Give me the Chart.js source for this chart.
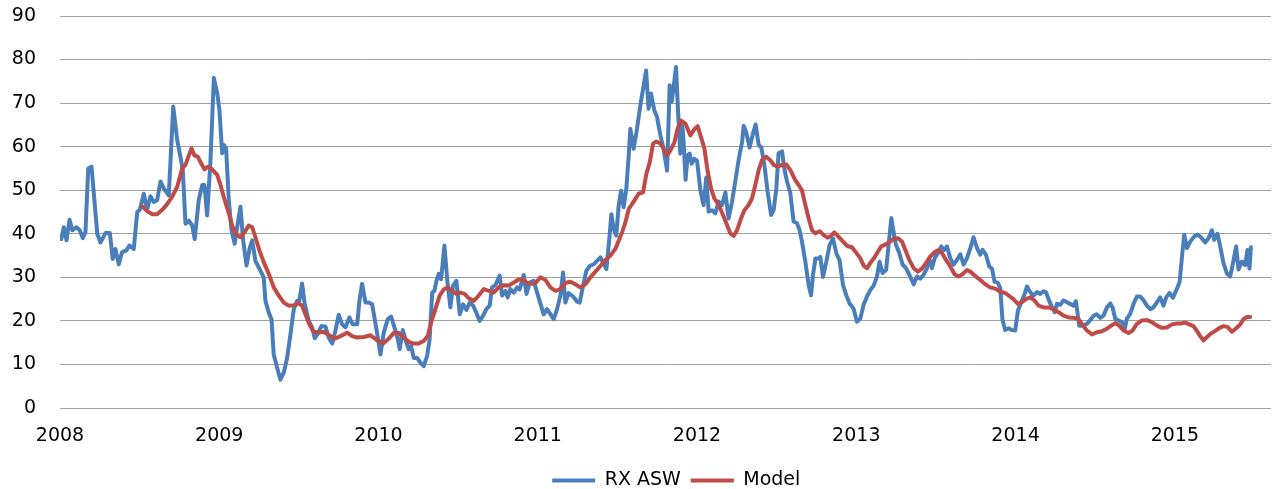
<!DOCTYPE html>
<html>
<head>
<meta charset="utf-8">
<script src="https://cdn.jsdelivr.net/npm/chart.js@4.4.1/dist/chart.umd.min.js"></script>
<style>
  html, body { margin: 0; padding: 0; background: #fff; }
  #wrap { width: 1272px; height: 489px; }
</style>
</head>
<body>
<div id="wrap"><canvas id="aswChart"></canvas></div>
<script>
// Year ticks on the x axis, value ticks on the y axis
const yearTicks = [2008, 2009, 2010, 2011, 2012, 2013, 2014, 2015]
const valueTicks = [0, 10, 20, 30, 40, 50, 60, 70, 80, 90]

// RX ASW (decimal year, value)
const aswYears = [
  2008.008, 2008.024, 2008.041, 2008.060, 2008.077, 2008.104, 2008.124, 2008.143, 2008.160, 2008.177,
  2008.198, 2008.234, 2008.254, 2008.286, 2008.313, 2008.331, 2008.348, 2008.369, 2008.390, 2008.417,
  2008.436, 2008.463, 2008.485, 2008.501, 2008.526, 2008.547, 2008.568, 2008.589, 2008.610, 2008.631,
  2008.652, 2008.683, 2008.711, 2008.736, 2008.756, 2008.771, 2008.788, 2008.809, 2008.830, 2008.846,
  2008.871, 2008.893, 2008.907, 2008.924, 2008.945, 2008.966, 2008.987, 2009.001, 2009.018, 2009.028,
  2009.043, 2009.060, 2009.077, 2009.097, 2009.116, 2009.133, 2009.150, 2009.171, 2009.192, 2009.207,
  2009.227, 2009.259, 2009.279, 2009.290, 2009.311, 2009.328, 2009.342, 2009.364, 2009.384, 2009.405,
  2009.426, 2009.447, 2009.468, 2009.489, 2009.503, 2009.520, 2009.537, 2009.562, 2009.583, 2009.600,
  2009.621, 2009.642, 2009.667, 2009.687, 2009.709, 2009.729, 2009.750, 2009.772, 2009.792, 2009.817,
  2009.838, 2009.866, 2009.880, 2009.897, 2009.918, 2009.939, 2009.960, 2009.987, 2010.012, 2010.033,
  2010.058, 2010.079, 2010.100, 2010.121, 2010.133, 2010.152, 2010.175, 2010.190, 2010.205, 2010.221,
  2010.242, 2010.263, 2010.284, 2010.305, 2010.321, 2010.337, 2010.351, 2010.364, 2010.378, 2010.393,
  2010.414, 2010.431, 2010.451, 2010.468, 2010.489, 2010.510, 2010.531, 2010.552, 2010.573, 2010.594,
  2010.615, 2010.635, 2010.657, 2010.677, 2010.698, 2010.713, 2010.734, 2010.761, 2010.776, 2010.797,
  2010.811, 2010.828, 2010.849, 2010.870, 2010.886, 2010.912, 2010.929, 2010.949, 2010.974, 2010.996,
  2011.037, 2011.058, 2011.075, 2011.100, 2011.121, 2011.142, 2011.159, 2011.173, 2011.194, 2011.222,
  2011.247, 2011.263, 2011.284, 2011.305, 2011.326, 2011.351, 2011.372, 2011.393, 2011.410, 2011.431,
  2011.451, 2011.462, 2011.477, 2011.493, 2011.508, 2011.523, 2011.539, 2011.556, 2011.571, 2011.581,
  2011.602, 2011.623, 2011.644, 2011.665, 2011.680, 2011.696, 2011.711, 2011.732, 2011.749, 2011.770,
  2011.790, 2011.812, 2011.828, 2011.841, 2011.853, 2011.868, 2011.881, 2011.895, 2011.906, 2011.916,
  2011.928, 2011.941, 2011.954, 2011.966, 2011.983, 2012.000, 2012.021, 2012.041, 2012.058, 2012.073,
  2012.094, 2012.115, 2012.136, 2012.157, 2012.178, 2012.198, 2012.220, 2012.240, 2012.261, 2012.283,
  2012.293, 2012.310, 2012.330, 2012.352, 2012.368, 2012.387, 2012.404, 2012.423, 2012.443, 2012.465,
  2012.481, 2012.498, 2012.512, 2012.534, 2012.548, 2012.565, 2012.586, 2012.606, 2012.628, 2012.644,
  2012.659, 2012.680, 2012.701, 2012.716, 2012.728, 2012.743, 2012.763, 2012.774, 2012.791, 2012.812,
  2012.832, 2012.854, 2012.875, 2012.895, 2012.917, 2012.937, 2012.958, 2012.983, 2013.004, 2013.025,
  2013.046, 2013.067, 2013.088, 2013.109, 2013.130, 2013.146, 2013.165, 2013.187, 2013.203, 2013.220,
  2013.234, 2013.249, 2013.270, 2013.291, 2013.312, 2013.333, 2013.360, 2013.381, 2013.402, 2013.423,
  2013.444, 2013.458, 2013.475, 2013.492, 2013.513, 2013.534, 2013.551, 2013.569, 2013.590, 2013.611,
  2013.632, 2013.653, 2013.674, 2013.695, 2013.716, 2013.736, 2013.758, 2013.778, 2013.793, 2013.814,
  2013.835, 2013.852, 2013.868, 2013.890, 2013.904, 2013.918, 2013.935, 2013.956, 2013.977, 2013.998,
  2014.015, 2014.036, 2014.057, 2014.072, 2014.092, 2014.113, 2014.134, 2014.155, 2014.176, 2014.191,
  2014.207, 2014.229, 2014.245, 2014.260, 2014.281, 2014.301, 2014.323, 2014.343, 2014.364, 2014.379,
  2014.400, 2014.421, 2014.448, 2014.469, 2014.490, 2014.511, 2014.532, 2014.552, 2014.574, 2014.595,
  2014.609, 2014.626, 2014.647, 2014.668, 2014.684, 2014.699, 2014.720, 2014.741, 2014.762, 2014.783,
  2014.804, 2014.825, 2014.846, 2014.866, 2014.888, 2014.908, 2014.929, 2014.946, 2014.967, 2014.988,
  2015.009, 2015.030, 2015.045, 2015.059, 2015.076, 2015.097, 2015.122, 2015.143, 2015.164, 2015.191,
  2015.212, 2015.233, 2015.247, 2015.268, 2015.285, 2015.306, 2015.327, 2015.348, 2015.365, 2015.385,
  2015.400, 2015.421, 2015.442, 2015.456, 2015.469, 2015.478
]
const aswValues = [
  38.8, 41.5, 38.5, 43.2, 40.8, 41.5, 40.8, 39.0, 40.4, 55.0,
  55.4, 40.0, 38.0, 40.2, 40.2, 34.2, 36.5, 33.0, 35.8, 36.2,
  37.3, 36.5, 45.0, 45.5, 49.2, 45.5, 48.6, 47.3, 47.7, 52.0,
  50.4, 48.8, 69.2, 61.5, 57.7, 54.6, 42.3, 43.0, 41.9, 38.8,
  47.7, 51.2, 51.2, 44.2, 56.9, 75.8, 72.3, 68.5, 58.5, 60.4,
  59.6, 47.7, 40.8, 37.7, 42.3, 46.2, 38.5, 32.7, 36.9, 38.5,
  33.8, 31.5, 30.0, 24.6, 21.9, 20.4, 12.3, 9.2, 6.5, 8.1,
  11.5, 16.9, 22.7, 24.6, 24.6, 28.6, 23.8, 20.0, 18.5, 16.0,
  17.3, 18.8, 18.7, 16.2, 14.8, 17.7, 21.4, 19.2, 18.5, 20.8,
  19.2, 19.2, 24.6, 28.5, 24.2, 24.2, 23.8, 18.1, 12.3, 17.3,
  20.4, 21.0, 18.5, 15.8, 13.5, 17.9, 15.0, 13.5, 14.2, 11.5,
  11.5, 10.4, 9.6, 11.9, 15.8, 26.5, 26.9, 29.2, 30.8, 29.6,
  37.3, 29.6, 23.1, 28.1, 29.2, 21.5, 23.8, 22.5, 24.2, 23.5,
  21.8, 20.0, 21.2, 22.7, 23.5, 27.7, 28.2, 30.4, 25.8, 26.9,
  25.4, 27.3, 26.5, 27.7, 27.2, 30.5, 26.2, 28.8, 29.2, 26.5,
  21.5, 22.7, 21.8, 20.4, 22.7, 25.8, 31.1, 24.2, 26.4, 25.6,
  24.4, 24.2, 28.0, 31.5, 32.6, 33.0, 33.8, 34.6, 33.4, 31.9,
  39.6, 44.5, 41.1, 39.6, 46.5, 49.9, 46.1, 50.3, 58.0, 64.1,
  59.5, 64.1, 69.5, 74.1, 77.5, 68.7, 72.2, 68.3, 66.8, 62.6,
  59.5, 54.5, 74.1, 70.3, 73.7, 78.3, 68.0, 58.4, 65.6, 61.0,
  52.4, 58.0, 58.4, 56.1, 57.2, 56.8, 50.0, 46.6, 52.9, 45.1,
  45.4, 44.7, 47.4, 46.6, 49.5, 43.5, 47.4, 52.0, 56.9, 61.1,
  64.8, 63.1, 59.8, 63.1, 65.1, 60.4, 59.8, 55.8, 49.7, 44.3,
  45.4, 50.4, 58.5, 58.9, 55.0, 52.0, 49.3, 42.8, 42.4, 40.8,
  38.2, 33.6, 28.2, 25.9, 30.5, 34.3, 34.3, 34.7, 30.1, 33.6,
  37.4, 38.9, 35.5, 33.9, 28.2, 25.9, 24.0, 22.8, 19.8, 20.5,
  23.7, 25.6, 27.1, 28.1, 30.2, 33.6, 31.0, 31.7, 37.5, 43.6,
  40.5, 37.5, 35.6, 32.9, 32.1, 30.6, 28.4, 30.2, 29.7, 30.6,
  32.1, 34.4, 32.1, 34.4, 35.6, 37.1, 36.3, 37.1, 34.4, 32.9,
  34.0, 35.3, 32.9, 34.4, 36.7, 39.2, 36.7, 35.2, 36.3, 35.2,
  32.5, 32.0, 29.0, 28.7, 27.5, 20.2, 17.9, 18.3, 17.9, 17.8,
  22.4, 24.3, 26.2, 27.9, 26.6, 25.8, 26.6, 26.2, 26.8, 26.6,
  25.0, 23.1, 22.0, 23.9, 23.7, 24.7, 24.3, 23.9, 23.5, 24.5,
  18.9, 18.9, 19.3, 20.2, 21.2, 21.5, 20.7, 21.2, 23.1, 24.0,
  23.1, 20.5, 20.1, 19.7, 17.9, 20.5, 21.6, 23.9, 25.6, 25.6,
  24.7, 23.5, 22.7, 23.1, 24.3, 25.4, 23.5, 25.4, 26.4, 25.3,
  27.0, 28.9, 34.7, 39.8, 36.7, 38.2, 39.4, 39.8, 39.2, 38.0,
  39.0, 40.8, 38.6, 40.0, 37.1, 33.2, 30.9, 30.2, 33.2, 37.1,
  31.8, 33.6, 32.8, 36.3, 32.0, 36.9
]

// Model (decimal year, value)
const modelYears = [
  2008.516, 2008.547, 2008.579, 2008.610, 2008.642, 2008.673, 2008.704, 2008.736, 2008.767, 2008.788,
  2008.809, 2008.826, 2008.844, 2008.865, 2008.886, 2008.907, 2008.928, 2008.949, 2008.987, 2009.008,
  2009.028, 2009.050, 2009.064, 2009.081, 2009.102, 2009.133, 2009.160, 2009.185, 2009.207, 2009.227,
  2009.252, 2009.279, 2009.311, 2009.342, 2009.374, 2009.405, 2009.436, 2009.468, 2009.499, 2009.520,
  2009.541, 2009.566, 2009.593, 2009.625, 2009.656, 2009.687, 2009.725, 2009.761, 2009.803, 2009.834,
  2009.866, 2009.907, 2009.949, 2009.991, 2010.029, 2010.064, 2010.095, 2010.127, 2010.158, 2010.190,
  2010.221, 2010.252, 2010.284, 2010.309, 2010.330, 2010.357, 2010.384, 2010.409, 2010.434, 2010.462,
  2010.489, 2010.514, 2010.541, 2010.566, 2010.598, 2010.629, 2010.660, 2010.692, 2010.723, 2010.755,
  2010.786, 2010.817, 2010.849, 2010.880, 2010.908, 2010.933, 2010.964, 2010.989, 2011.016, 2011.048,
  2011.079, 2011.111, 2011.142, 2011.173, 2011.205, 2011.236, 2011.267, 2011.299, 2011.330, 2011.362,
  2011.393, 2011.424, 2011.456, 2011.487, 2011.508, 2011.529, 2011.550, 2011.571, 2011.592, 2011.613,
  2011.633, 2011.661, 2011.682, 2011.703, 2011.724, 2011.745, 2011.770, 2011.790, 2011.812, 2011.832,
  2011.858, 2011.878, 2011.900, 2011.927, 2011.958, 2011.983, 2012.004, 2012.046, 2012.067, 2012.088,
  2012.109, 2012.136, 2012.163, 2012.188, 2012.209, 2012.230, 2012.251, 2012.272, 2012.297, 2012.324,
  2012.345, 2012.366, 2012.387, 2012.408, 2012.435, 2012.460, 2012.481, 2012.506, 2012.534, 2012.561,
  2012.586, 2012.617, 2012.638, 2012.659, 2012.680, 2012.701, 2012.722, 2012.743, 2012.770, 2012.795,
  2012.820, 2012.841, 2012.862, 2012.889, 2012.917, 2012.942, 2012.973, 2012.994, 2013.025, 2013.046,
  2013.067, 2013.088, 2013.115, 2013.136, 2013.157, 2013.182, 2013.207, 2013.234, 2013.262, 2013.287,
  2013.308, 2013.333, 2013.360, 2013.387, 2013.412, 2013.438, 2013.465, 2013.492, 2013.517, 2013.538,
  2013.563, 2013.590, 2013.617, 2013.642, 2013.667, 2013.695, 2013.719, 2013.751, 2013.778, 2013.810,
  2013.841, 2013.873, 2013.904, 2013.935, 2013.987, 2014.015, 2014.040, 2014.065, 2014.092, 2014.119,
  2014.144, 2014.176, 2014.207, 2014.239, 2014.270, 2014.301, 2014.333, 2014.364, 2014.392, 2014.417,
  2014.448, 2014.480, 2014.511, 2014.542, 2014.574, 2014.601, 2014.626, 2014.651, 2014.678, 2014.709,
  2014.735, 2014.762, 2014.794, 2014.825, 2014.856, 2014.888, 2014.919, 2014.950, 2014.982, 2015.013,
  2015.038, 2015.065, 2015.092, 2015.117, 2015.139, 2015.159, 2015.180, 2015.202, 2015.227, 2015.254,
  2015.281, 2015.306, 2015.331, 2015.359, 2015.385, 2015.411, 2015.431, 2015.453, 2015.473
]
const modelValues = [
  46.3, 45.2, 44.5, 44.5, 45.5, 46.8, 48.5, 50.8, 55.0, 55.8,
  58.0, 59.6, 58.0, 57.7, 56.2, 54.8, 55.4, 55.0, 53.5, 51.2,
  48.5, 45.8, 44.2, 41.9, 40.0, 39.2, 40.4, 41.9, 41.5, 39.2,
  36.2, 33.5, 30.8, 27.7, 25.8, 24.2, 23.5, 23.6, 24.0, 23.5,
  21.5, 19.2, 17.5, 17.3, 17.5, 16.8, 15.9, 16.5, 17.3, 16.5,
  16.2, 16.3, 16.7, 15.6, 14.8, 15.9, 17.2, 17.2, 16.2, 15.2,
  14.8, 14.8, 15.4, 16.5, 19.6, 22.7, 25.8, 27.2, 27.7, 26.9,
  26.2, 26.5, 26.2, 25.2, 24.6, 25.8, 27.3, 26.9, 26.5, 27.7,
  28.2, 28.1, 28.8, 29.5, 29.5, 28.7, 28.5, 28.8, 30.0, 29.4,
  27.7, 26.9, 27.3, 28.7, 29.0, 28.4, 27.7, 28.4, 30.0, 31.3,
  32.6, 34.0, 35.0, 36.5, 38.4, 40.3, 42.6, 45.7, 46.8, 48.0,
  49.2, 49.5, 53.8, 56.4, 60.7, 61.2, 60.7, 59.5, 58.0, 59.1,
  61.0, 64.1, 66.0, 65.3, 62.6, 64.0, 64.7, 59.6, 54.3, 50.4,
  48.1, 46.6, 44.3, 42.0, 40.1, 39.5, 40.8, 43.1, 45.4, 46.6,
  48.1, 51.2, 54.6, 56.9, 57.7, 56.9, 55.8, 55.4, 55.8, 55.9,
  54.6, 52.3, 51.2, 50.0, 46.6, 43.5, 40.8, 40.1, 40.6, 39.7,
  39.1, 39.5, 40.3, 39.3, 38.2, 37.2, 36.9, 35.9, 34.4, 32.7,
  32.1, 33.3, 34.6, 35.9, 37.1, 37.5, 38.1, 38.8, 39.0, 38.2,
  36.3, 34.0, 32.1, 31.3, 32.0, 33.3, 34.8, 35.8, 36.3, 35.6,
  34.0, 32.5, 30.7, 30.2, 30.7, 31.7, 31.2, 30.2, 29.4, 28.4,
  27.7, 27.4, 26.7, 26.4, 25.0, 23.9, 24.3, 25.0, 25.4, 24.7,
  23.5, 23.1, 23.1, 22.7, 22.0, 21.2, 20.8, 20.7, 20.5, 19.3,
  17.8, 16.9, 17.4, 17.6, 18.2, 18.9, 19.5, 18.9, 17.8, 17.2,
  17.8, 19.3, 20.1, 20.2, 19.7, 18.9, 18.4, 18.5, 19.2, 19.4,
  19.4, 19.6, 19.2, 18.8, 17.7, 16.5, 15.5, 16.3, 17.1, 17.7,
  18.4, 18.8, 18.6, 17.5, 18.3, 19.2, 20.4, 20.9, 20.9
]

const toPoints = (xs, ys) => xs.map((x, i) => ({ x: x, y: ys[i] }))

// Nudge the bottom legend so it sits where the original one does
const legendNudge = {
  id: 'legendNudge',
  afterLayout(chart) {
    const lg = chart.legend
    if (!lg) return
    lg.left += 35
    lg.right += 35
    lg.top += 15
    lg.bottom += 15
  },
}

document.addEventListener('DOMContentLoaded', function () {
  const ctx = document.getElementById('aswChart').getContext('2d')
  const font = { family: "'DejaVu Sans', sans-serif", size: 19 }

  new Chart(ctx, {
    type: 'line',
    data: {
      datasets: [
        {
          label: 'RX ASW',
          data: toPoints(aswYears, aswValues),
          borderColor: '#4A7EBB',
          backgroundColor: '#4A7EBB',
          borderWidth: 4,
          pointRadius: 0,
          tension: 0,
          borderJoinStyle: 'round',
          borderCapStyle: 'round',
          order: 2,
        },
        {
          label: 'Model',
          data: toPoints(modelYears, modelValues),
          borderColor: '#BE4B48',
          backgroundColor: '#BE4B48',
          borderWidth: 4,
          pointRadius: 0,
          tension: 0,
          borderJoinStyle: 'round',
          borderCapStyle: 'round',
          order: 1,
        },
      ],
    },
    options: {
      responsive: true,
      maintainAspectRatio: false,
      animation: false,
      devicePixelRatio: 1,
      layout: {
        autoPadding: false,
        padding: { left: 11.5, right: 1, top: 16, bottom: 4 },
      },
      scales: {
        x: {
          type: 'linear',
          min: 2008,
          max: 2015.604,
          afterBuildTicks: (scale) => {
            scale.ticks = yearTicks.map((v) => ({ value: v }))
          },
          afterFit: (scale) => {
            scale.height = 38
            scale.paddingLeft = 0
            scale.paddingRight = 0
          },
          ticks: {
            autoSkip: false,
            maxRotation: 0,
            padding: 17,
            color: '#000',
            font: font,
            callback: (value) => String(value),
          },
          grid: { display: false, drawTicks: false },
          border: { display: false },
        },
        y: {
          min: 0,
          max: 90,
          afterBuildTicks: (scale) => {
            scale.ticks = valueTicks.map((v) => ({ value: v }))
          },
          afterFit: (scale) => {
            scale.width = 48.5
            scale.paddingTop = 0
            scale.paddingBottom = 0
          },
          ticks: {
            padding: 24,
            color: '#000',
            font: font,
          },
          grid: {
            color: '#9f9f9f',
            lineWidth: 1,
            drawTicks: false,
          },
          border: { display: false },
        },
      },
      plugins: {
        legend: {
          position: 'bottom',
          labels: {
            color: '#000',
            font: font,
            boxWidth: 43,
            boxHeight: 4,
            padding: 10,
            sort: (a, b) => a.datasetIndex - b.datasetIndex,
            generateLabels: (chart) => {
              const items = Chart.defaults.plugins.legend.labels.generateLabels(chart)
              items.forEach((it) => {
                it.fillStyle = it.strokeStyle
                it.lineWidth = 0
              })
              return items
            },
          },
        },
        tooltip: { enabled: false },
      },
    },
    plugins: [legendNudge],
  })
})
</script>
</body>
</html>
